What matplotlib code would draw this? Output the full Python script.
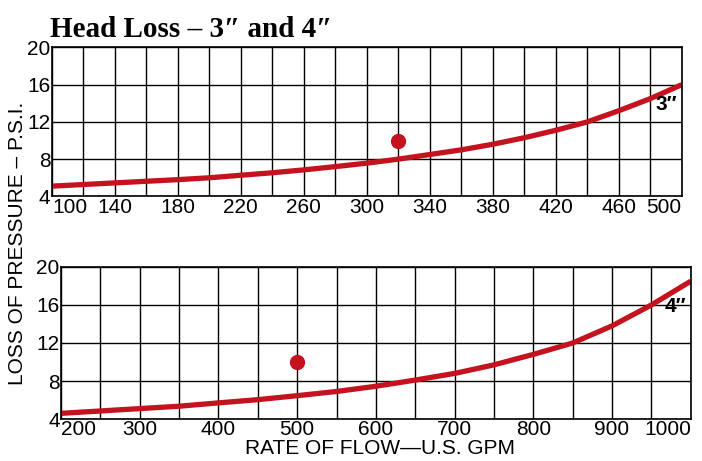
import numpy as np
import matplotlib
matplotlib.use("Agg")
import matplotlib.pyplot as plt

# 3 inch hose: flow (GPM) vs pressure loss (PSI)
gpm_3in = [100, 140, 180, 200, 220, 240, 260, 280, 300, 320, 340, 360, 380, 400, 420, 440, 460, 480, 500]
psi_3in = [5.1, 5.45, 5.8, 6.0, 6.27, 6.54, 6.85, 7.2, 7.57, 8.0, 8.5, 9.0, 9.6, 10.3, 11.1, 12.0, 13.2, 14.5, 16.0]

# 4 inch hose
gpm_4in = [200, 250, 300, 350, 400, 450, 500, 550, 600, 650, 700, 750, 800, 850, 900, 950, 1000]
psi_4in = [4.6, 4.85, 5.1, 5.35, 5.7, 6.04, 6.46, 6.9, 7.45, 8.1, 8.8, 9.7, 10.8, 12.0, 13.8, 16.0, 18.5]

# example points
dot_3in = (320, 10)
dot_4in = (500, 10)

psi_ticks = [4, 8, 12, 16, 20]
ticks_3in = [100, 140, 180, 220, 260, 300, 340, 380, 420, 460, 500]
ticks_4in = [200, 300, 400, 500, 600, 700, 800, 900, 1000]

red = "#c4121f"
sans = ["Liberation Sans Narrow", "Liberation Sans", "DejaVu Sans"]

fig = plt.figure(figsize=(7.02, 4.61), dpi=100)
ax1 = fig.add_axes([0.074, 0.574, 0.897, 0.323])
ax2 = fig.add_axes([0.087, 0.091, 0.897, 0.330])


def setup(ax, xmin, xmax, step, xticks, label):
    ax.set_xlim(xmin, xmax)
    ax.set_ylim(4, 20)
    ax.set_xticks(np.arange(xmin, xmax + 1, step), minor=True)
    ax.set_xticks(xticks)
    ax.set_yticks(psi_ticks)
    ax.grid(True, which="both", axis="x", color="black", lw=1.0)
    ax.grid(True, which="major", axis="y", color="black", lw=1.0)
    ax.tick_params(which="both", length=0, pad=1, labelsize=15)
    for lab in ax.get_xticklabels() + ax.get_yticklabels():
        lab.set_family(sans)
    xl = ax.get_xticklabels()
    xl[0].set_ha("left")
    xl[-1].set_ha("right")
    for s in ax.spines.values():
        s.set_color("black")
        s.set_linewidth(1.2)
    ax.set_axisbelow(True)
    ax.text(0.993, label[1], label[0], transform=ax.transAxes, ha="right", va="center",
            fontsize=15, fontweight="bold", family=sans)


setup(ax1, 100, 500, 20, ticks_3in, ("3″", 0.62))
setup(ax2, 200, 1000, 50, ticks_4in, ("4″", 0.74))

ax1.plot(gpm_3in, psi_3in, color=red, lw=3.8, solid_capstyle="butt", clip_on=False)
ax2.plot(gpm_4in, psi_4in, color=red, lw=3.8, solid_capstyle="butt", clip_on=False)
ax1.plot(*dot_3in, "o", color=red, ms=10)
ax2.plot(*dot_4in, "o", color=red, ms=10)

fig.text(0.071, 0.935, "Head Loss – 3″ and 4″", family=["Liberation Serif", "DejaVu Serif"],
         fontweight="bold", fontsize=21, ha="left", va="center")
fig.text(0.025, 0.473, "LOSS OF PRESSURE – P.S.I.", rotation=90, family=sans,
         fontsize=15, ha="center", va="center")
fig.text(0.541, 0.028, "RATE OF FLOW—U.S. GPM", family=sans, fontsize=15,
         ha="center", va="center")

fig.savefig("out.png", dpi=100)
